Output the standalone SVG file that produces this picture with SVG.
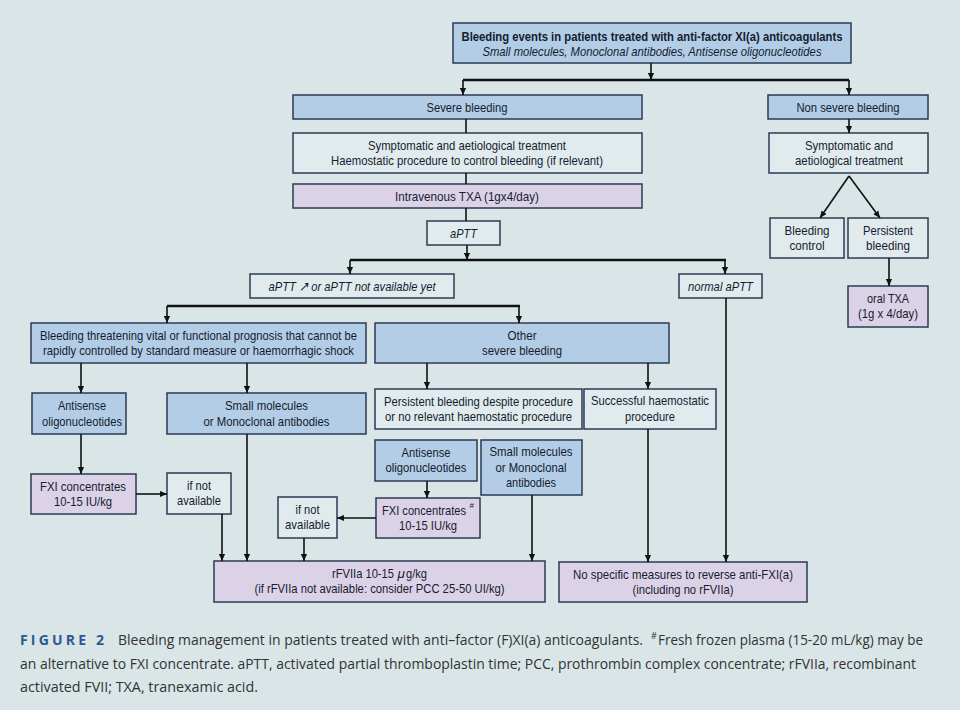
<svg xmlns="http://www.w3.org/2000/svg" width="960" height="710" viewBox="0 0 960 710">
<defs>
<marker id="ah" viewBox="0 0 8 8" refX="8" refY="4" markerWidth="7" markerHeight="7" markerUnits="userSpaceOnUse" orient="auto">
<path d="M0,0.5 L8,4 L0,7.5 z" fill="#111"/>
</marker>
<style>
.bg{fill:#d9e5e7}
.b{stroke:#2b3a55;stroke-width:1.5}
.blue{fill:#b3cde6}
.lt{fill:#e1ebee}
.pu{fill:#dcd2e8}
text{font-family:"Liberation Sans",Arial,sans-serif;font-size:13.5px;fill:#141c2e;text-anchor:middle}
.it{font-style:italic}
.bd{font-weight:bold}
.st{text-anchor:start}
.sup{font-size:8px}
.c line,.c path{stroke:#111;stroke-width:1.6;fill:none}
.c .bus{stroke-width:2.6}
.a{marker-end:url(#ah)}
.cap{font-family:"Open Sans","Liberation Sans",sans-serif;font-size:14px;fill:#333;text-anchor:start}
.cap.sup{font-size:9px}
.fig{fill:#2c5a8e;font-weight:bold;letter-spacing:2px}
</style>
</defs>
<rect class="bg" x="0" y="0" width="960" height="710"/>

<g id="n-top"><rect class="b blue" x="453" y="23" width="398" height="40"/>
<text class="bd" x="652" y="40.5" textLength="381" lengthAdjust="spacingAndGlyphs">Bleeding events in patients treated with anti-factor XI(a) anticoagulants</text>
<text class="it" x="652" y="55.5" textLength="339" lengthAdjust="spacingAndGlyphs">Small molecules, Monoclonal antibodies, Antisense oligonucleotides</text></g>

<g id="n-severe"><rect class="b blue" x="293" y="95" width="349" height="24"/>
<text x="467" y="111.5" textLength="81" lengthAdjust="spacingAndGlyphs">Severe bleeding</text></g>

<g id="n-nonsevere"><rect class="b blue" x="768" y="95" width="160" height="24"/>
<text x="848" y="111.5" textLength="103" lengthAdjust="spacingAndGlyphs">Non severe bleeding</text></g>

<g id="n-sympt"><rect class="b lt" x="293" y="133" width="349" height="40"/>
<text x="467" y="149.5" textLength="198" lengthAdjust="spacingAndGlyphs">Symptomatic and aetiological treatment</text>
<text x="467" y="164.5" textLength="272" lengthAdjust="spacingAndGlyphs">Haemostatic procedure to control bleeding (if relevant)</text></g>

<g id="n-sympt2"><rect class="b lt" x="769" y="133" width="159" height="40"/>
<text x="849" y="149.5" textLength="88" lengthAdjust="spacingAndGlyphs">Symptomatic and</text>
<text x="849" y="164.5" textLength="108" lengthAdjust="spacingAndGlyphs">aetiological treatment</text></g>

<g id="n-ivtxa"><rect class="b pu" x="293" y="184" width="349" height="24"/>
<text x="467" y="200.5" textLength="144" lengthAdjust="spacingAndGlyphs">Intravenous TXA  (1gx4/day)</text></g>

<g id="n-aptt"><rect class="b lt" x="427" y="221" width="73" height="24"/>
<text class="it" x="463.5" y="237.5" textLength="27" lengthAdjust="spacingAndGlyphs">aPTT</text></g>

<g id="n-aptt-up"><rect class="b lt" x="250" y="274" width="204" height="24"/>
<text class="it" x="352" y="290.5" textLength="167" lengthAdjust="spacingAndGlyphs">aPTT ↗ or aPTT not available yet</text></g>

<g id="n-normal"><rect class="b lt" x="679" y="274" width="83" height="24"/>
<text class="it" x="720.5" y="290.5" textLength="65" lengthAdjust="spacingAndGlyphs">normal aPTT</text></g>

<g id="n-bctrl"><rect class="b lt" x="770" y="218" width="74" height="40"/>
<text x="807" y="234.5" textLength="45" lengthAdjust="spacingAndGlyphs">Bleeding</text>
<text x="807" y="249.5" textLength="35" lengthAdjust="spacingAndGlyphs">control</text></g>

<g id="n-persist"><rect class="b lt" x="848" y="218" width="80" height="40"/>
<text x="888" y="234.5" textLength="50" lengthAdjust="spacingAndGlyphs">Persistent</text>
<text x="888" y="249.5" textLength="44" lengthAdjust="spacingAndGlyphs">bleeding</text></g>

<g id="n-oraltxa"><rect class="b pu" x="848" y="286" width="80" height="41"/>
<text x="888" y="302.5" textLength="42" lengthAdjust="spacingAndGlyphs">oral TXA</text>
<text x="888" y="318" textLength="60" lengthAdjust="spacingAndGlyphs">(1g x 4/day)</text></g>

<g id="n-threat"><rect class="b blue" x="31" y="323" width="335" height="40"/>
<text x="198.5" y="339.5" textLength="317" lengthAdjust="spacingAndGlyphs">Bleeding threatening vital or functional prognosis that cannot be</text>
<text x="198.5" y="355" textLength="311" lengthAdjust="spacingAndGlyphs">rapidly controlled by standard measure or haemorrhagic shock</text></g>

<g id="n-other"><rect class="b blue" x="375" y="323" width="294" height="40"/>
<text x="522" y="339.5" textLength="29" lengthAdjust="spacingAndGlyphs">Other</text>
<text x="522" y="355" textLength="80" lengthAdjust="spacingAndGlyphs">severe bleeding</text></g>

<g id="n-anti1"><rect class="b blue" x="32" y="393" width="94" height="41"/>
<text x="82" y="410" textLength="48" lengthAdjust="spacingAndGlyphs">Antisense</text>
<text x="82" y="425.5" textLength="80" lengthAdjust="spacingAndGlyphs">oligonucleotides</text></g>

<g id="n-small1"><rect class="b blue" x="167" y="393" width="199" height="41"/>
<text x="266.5" y="410" textLength="83" lengthAdjust="spacingAndGlyphs">Small molecules</text>
<text x="266.5" y="425.5" textLength="126" lengthAdjust="spacingAndGlyphs">or Monoclonal antibodies</text></g>

<g id="n-fxi1"><rect class="b pu" x="31" y="474" width="105" height="40"/>
<text x="83" y="490.5" textLength="86" lengthAdjust="spacingAndGlyphs">FXI concentrates</text>
<text x="83" y="506" textLength="58" lengthAdjust="spacingAndGlyphs">10-15 IU/kg</text></g>

<g id="n-ifnot1"><rect class="b lt" x="167" y="473" width="64" height="41"/>
<text x="199" y="489.5" textLength="24" lengthAdjust="spacingAndGlyphs">if not</text>
<text x="199" y="505" textLength="44" lengthAdjust="spacingAndGlyphs">available</text></g>

<g id="n-persist2"><rect class="b lt" x="375" y="389" width="207" height="40"/>
<text x="478.5" y="405.5" textLength="189" lengthAdjust="spacingAndGlyphs">Persistent bleeding despite procedure</text>
<text x="478.5" y="421" textLength="187" lengthAdjust="spacingAndGlyphs">or no relevant haemostatic procedure</text></g>

<g id="n-success"><rect class="b lt" x="584" y="389" width="132" height="40"/>
<text x="650" y="405" textLength="118" lengthAdjust="spacingAndGlyphs">Successful haemostatic</text>
<text x="650" y="420.5" textLength="50" lengthAdjust="spacingAndGlyphs">procedure</text></g>

<g id="n-anti2"><rect class="b blue" x="375" y="440" width="102" height="41"/>
<text x="426" y="456.5" textLength="49" lengthAdjust="spacingAndGlyphs">Antisense</text>
<text x="426" y="472" textLength="81" lengthAdjust="spacingAndGlyphs">oligonucleotides</text></g>

<g id="n-small2"><rect class="b blue" x="481" y="440" width="101" height="55"/>
<text x="531" y="456" textLength="83" lengthAdjust="spacingAndGlyphs">Small molecules</text>
<text x="531" y="471.5" textLength="71" lengthAdjust="spacingAndGlyphs">or Monoclonal</text>
<text x="531" y="487" textLength="50" lengthAdjust="spacingAndGlyphs">antibodies</text></g>

<g id="n-fxi2"><rect class="b pu" x="376" y="498" width="104" height="40"/>
<text x="424" y="514.5" textLength="84" lengthAdjust="spacingAndGlyphs">FXI concentrates</text>
<text class="sup st" x="469.5" y="508">#</text>
<text x="428" y="530" textLength="58" lengthAdjust="spacingAndGlyphs">10-15 IU/kg</text></g>

<g id="n-ifnot2"><rect class="b lt" x="278" y="497" width="59" height="41"/>
<text x="307.5" y="513.5" textLength="24" lengthAdjust="spacingAndGlyphs">if not</text>
<text x="307.5" y="529" textLength="45" lengthAdjust="spacingAndGlyphs">available</text></g>

<g id="n-rfviia"><rect class="b pu" x="214" y="561" width="331" height="41"/>
<text class="st" x="332" y="577.5" textLength="62" lengthAdjust="spacingAndGlyphs">rFVIIa 10-15</text>
<text class="st it" x="397.5" y="577.5">μ</text>
<text class="st" x="406" y="577.5" textLength="21" lengthAdjust="spacingAndGlyphs">g/kg</text>
<text x="379.5" y="593" textLength="250" lengthAdjust="spacingAndGlyphs">(if rFVIIa not available: consider PCC 25-50 UI/kg)</text></g>

<g id="n-nospec"><rect class="b pu" x="559" y="562" width="248" height="40"/>
<text x="683" y="578.5" textLength="220" lengthAdjust="spacingAndGlyphs">No specific measures to reverse anti-FXI(a)</text>
<text x="683" y="594" textLength="101" lengthAdjust="spacingAndGlyphs">(including no rFVIIa)</text></g>

<g id="connectors" class="c">
<line class="a" x1="651" y1="63" x2="651" y2="80"/>
<line class="bus" x1="463" y1="80" x2="849" y2="80"/>
<line class="a" x1="463" y1="80" x2="463" y2="95"/>
<line class="a" x1="849" y1="80" x2="849" y2="95"/>
<line x1="466" y1="119" x2="466" y2="133"/>
<line class="a" x1="849" y1="119" x2="849" y2="133"/>
<line x1="466" y1="173" x2="466" y2="184"/>
<line x1="466" y1="208" x2="466" y2="221"/>
<line class="a" x1="467" y1="245" x2="467" y2="260"/>
<line class="bus" x1="350" y1="260" x2="726" y2="260"/>
<line class="a" x1="350" y1="260" x2="350" y2="274"/>
<line class="a" x1="725" y1="260" x2="725" y2="274"/>
<line class="a" x1="849" y1="176" x2="820" y2="218"/>
<line class="a" x1="849" y1="176" x2="880" y2="218"/>
<line class="a" x1="889" y1="258" x2="889" y2="286"/>
<line class="bus" x1="167" y1="306" x2="520" y2="306"/>
<line class="a" x1="167" y1="306" x2="167" y2="323"/>
<line class="a" x1="519" y1="306" x2="519" y2="323"/>
<line class="a" x1="81" y1="363" x2="81" y2="393"/>
<line class="a" x1="247" y1="363" x2="247" y2="393"/>
<line class="a" x1="81" y1="434" x2="81" y2="474"/>
<line class="a" x1="136" y1="494" x2="167" y2="494"/>
<line class="a" x1="222" y1="514" x2="222" y2="561"/>
<line class="a" x1="247" y1="434" x2="247" y2="561"/>
<line class="a" x1="427" y1="363" x2="427" y2="389"/>
<line class="a" x1="648" y1="363" x2="648" y2="389"/>
<line class="a" x1="427" y1="481" x2="427" y2="498"/>
<line class="a" x1="376" y1="518" x2="337" y2="518"/>
<line class="a" x1="304" y1="538" x2="304" y2="561"/>
<line class="a" x1="532" y1="495" x2="532" y2="561"/>
<line class="a" x1="648" y1="429" x2="648" y2="562"/>
<line class="a" x1="726" y1="298" x2="726" y2="562"/>
</g>

<g id="caption">
<text class="cap fig" x="20" y="645" textLength="86">FIGURE 2</text>
<text class="cap" x="118" y="645" textLength="525" lengthAdjust="spacingAndGlyphs">Bleeding management in patients treated with anti–factor (F)XI(a) anticoagulants.</text>
<text class="cap sup" x="651" y="639">#</text>
<text class="cap" x="658" y="645" textLength="265" lengthAdjust="spacingAndGlyphs">Fresh frozen plasma (15-20 mL/kg) may be</text>
<text class="cap" x="20" y="669" textLength="896" lengthAdjust="spacingAndGlyphs">an alternative to FXI concentrate. aPTT, activated partial thromboplastin time; PCC, prothrombin complex concentrate; rFVIIa, recombinant</text>
<text class="cap" x="20" y="692" textLength="238" lengthAdjust="spacingAndGlyphs">activated FVII; TXA, tranexamic acid.</text>
</g>
</svg>
